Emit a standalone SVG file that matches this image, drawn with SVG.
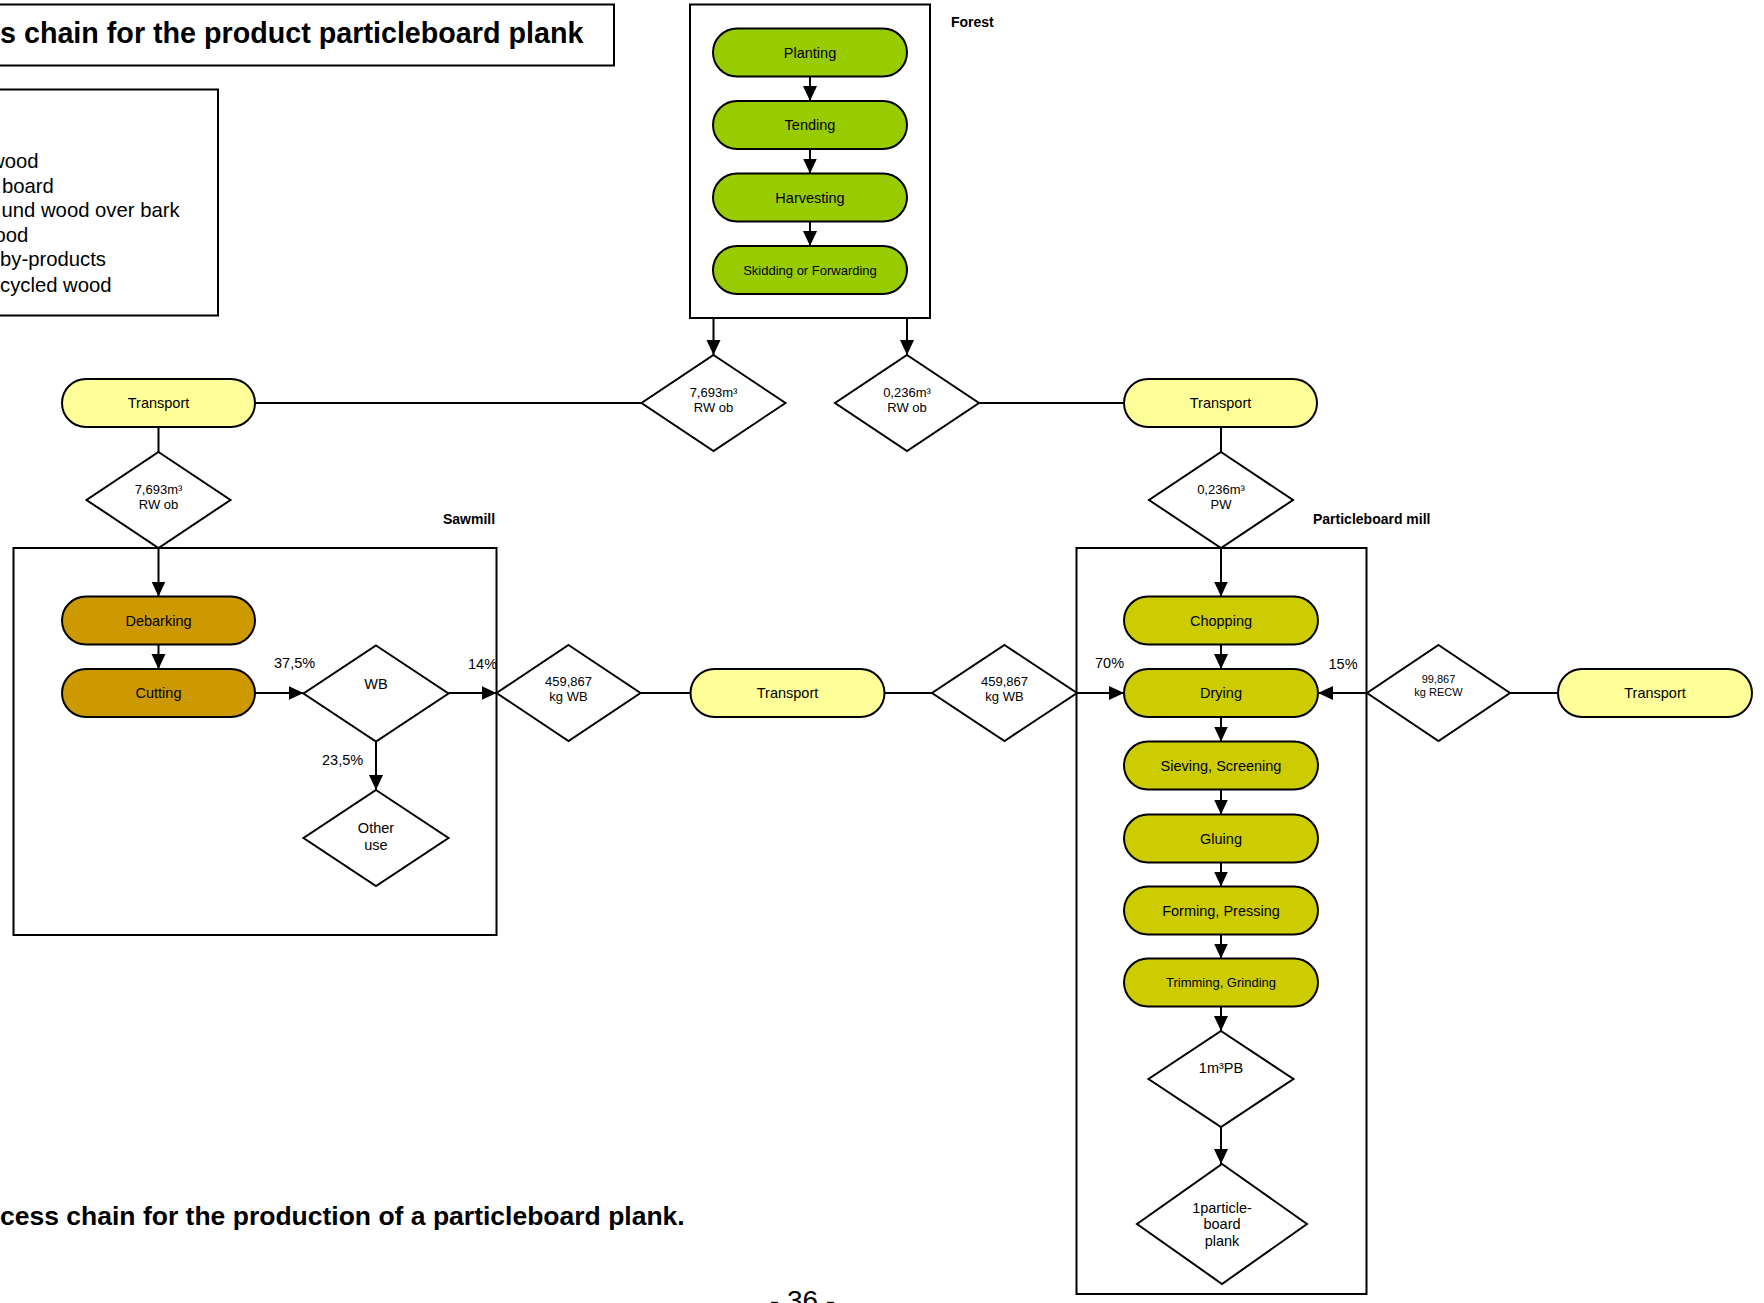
<svg xmlns="http://www.w3.org/2000/svg" width="1764" height="1303" viewBox="0 0 1764 1303">
<style>
  text { font-family: "Liberation Sans", Arial, sans-serif; fill: #000; }
  .frame { fill: none; stroke: #000; stroke-width: 2; }
  .pill { stroke: #000; stroke-width: 2; }
  .forest { fill: #99CC00; }
  .saw { fill: #CC9900; }
  .pb { fill: #CCCC00; }
  .trans { fill: #FFFF99; }
  .dia { fill: #FFFFFF; stroke: #000; stroke-width: 2; }
  .nt { font-size: 14.5px; text-anchor: middle; }
  .st { font-size: 13px; text-anchor: middle; }
  .dt { font-size: 13px; text-anchor: middle; }
  .xt { font-size: 11px; text-anchor: middle; }
  .lbl { font-size: 14.5px; }
  .leg { font-size: 20.3px; }
  .grp { font-size: 14px; font-weight: bold; }
  .conn line, .conn path { stroke: #000; stroke-width: 2; fill: none; }
</style>
<defs>
  <marker id="arr" markerUnits="userSpaceOnUse" markerWidth="16" markerHeight="15" refX="15" refY="7" orient="auto">
    <path d="M0,0 L15,7 L0,14 z" fill="#000"/>
  </marker>
</defs>
<rect width="1764" height="1303" fill="#FFFFFF"/>

<!-- Title -->
<g id="title">
  <rect class="frame" x="-10" y="4.5" width="624" height="61"/>
  <text x="0" y="43" font-size="28.7" font-weight="bold">s chain for the product particleboard plank</text>
</g>

<!-- Legend -->
<g id="legend">
  <rect class="frame" x="-10" y="89.5" width="228" height="226"/>
  <text class="leg" x="-10" y="168">wood</text>
  <text class="leg" x="2" y="193">board</text>
  <text class="leg" x="1.5" y="217">und wood over bark</text>
  <text class="leg" x="-5.5" y="242">ood</text>
  <text class="leg" x="0" y="266">by-products</text>
  <text class="leg" x="0" y="291.5">cycled wood</text>
</g>

<!-- Group frames -->
<g id="forest-box">
  <rect class="frame" x="690" y="4.5" width="240" height="313.5"/>
  <text class="grp" x="951" y="27">Forest</text>
</g>
<g id="sawmill-box">
  <rect class="frame" x="13.5" y="548" width="483" height="387"/>
  <text class="grp" x="443" y="524">Sawmill</text>
</g>
<g id="pbmill-box">
  <rect class="frame" x="1076.5" y="548" width="290" height="746"/>
  <text class="grp" x="1313" y="524">Particleboard mill</text>
</g>

<!-- Connectors -->
<g id="connectors" class="conn">
  <line x1="810" y1="76.5" x2="810" y2="101" marker-end="url(#arr)"/>
  <line x1="810" y1="149" x2="810" y2="173.5" marker-end="url(#arr)"/>
  <line x1="810" y1="221.5" x2="810" y2="246" marker-end="url(#arr)"/>
  <line x1="713.5" y1="318" x2="713.5" y2="355" marker-end="url(#arr)"/>
  <line x1="907" y1="318" x2="907" y2="355" marker-end="url(#arr)"/>
  <line x1="255" y1="403" x2="641.5" y2="403"/>
  <line x1="979" y1="403" x2="1124" y2="403"/>
  <line x1="158.5" y1="427" x2="158.5" y2="452"/>
  <line x1="1221" y1="427" x2="1221" y2="452"/>
  <line x1="158.5" y1="548" x2="158.5" y2="596.5" marker-end="url(#arr)"/>
  <line x1="158.5" y1="644.5" x2="158.5" y2="669" marker-end="url(#arr)"/>
  <line x1="255" y1="693" x2="303.5" y2="693" marker-end="url(#arr)"/>
  <line x1="448.5" y1="693" x2="496.5" y2="693" marker-end="url(#arr)"/>
  <line x1="376" y1="741.5" x2="376" y2="790" marker-end="url(#arr)"/>
  <line x1="640.5" y1="693" x2="690.5" y2="693"/>
  <line x1="884.5" y1="693" x2="932" y2="693"/>
  <line x1="1077" y1="693" x2="1124" y2="693" marker-end="url(#arr)"/>
  <line x1="1367" y1="693" x2="1318" y2="693" marker-end="url(#arr)"/>
  <line x1="1510" y1="693" x2="1558" y2="693"/>
  <line x1="1221" y1="548" x2="1221" y2="596.5" marker-end="url(#arr)"/>
  <line x1="1221" y1="644.5" x2="1221" y2="669" marker-end="url(#arr)"/>
  <line x1="1221" y1="717" x2="1221" y2="741.5" marker-end="url(#arr)"/>
  <line x1="1221" y1="789.5" x2="1221" y2="814.5" marker-end="url(#arr)"/>
  <line x1="1221" y1="862.5" x2="1221" y2="886.5" marker-end="url(#arr)"/>
  <line x1="1221" y1="934.5" x2="1221" y2="958.5" marker-end="url(#arr)"/>
  <line x1="1221" y1="1006.5" x2="1221" y2="1031" marker-end="url(#arr)"/>
  <line x1="1221" y1="1127" x2="1221" y2="1164" marker-end="url(#arr)"/>
</g>

<!-- Forest nodes -->
<g id="planting"><rect class="pill forest" x="713" y="28.5" width="194" height="48" rx="24"/><text class="nt" x="810" y="57.5">Planting</text></g>
<g id="tending"><rect class="pill forest" x="713" y="101" width="194" height="48" rx="24"/><text class="nt" x="810" y="130">Tending</text></g>
<g id="harvesting"><rect class="pill forest" x="713" y="173.5" width="194" height="48" rx="24"/><text class="nt" x="810" y="202.5">Harvesting</text></g>
<g id="skidding"><rect class="pill forest" x="713" y="246" width="194" height="48" rx="24"/><text class="st" x="810" y="274.5">Skidding or Forwarding</text></g>

<!-- Top diamonds -->
<g id="d-rw1"><polygon class="dia" points="713.5,355 785.5,403 713.5,451 641.5,403"/><text class="dt" x="713.5" y="397">7,693m³</text><text class="dt" x="713.5" y="412">RW ob</text></g>
<g id="d-rw2"><polygon class="dia" points="907,355 979,403 907,451 835,403"/><text class="dt" x="907" y="397">0,236m³</text><text class="dt" x="907" y="412">RW ob</text></g>

<!-- Transports -->
<g id="transport-left"><rect class="pill trans" x="62" y="379" width="193" height="48" rx="24"/><text class="nt" x="158.5" y="408">Transport</text></g>
<g id="transport-right"><rect class="pill trans" x="1124" y="379" width="193" height="48" rx="24"/><text class="nt" x="1220.5" y="408">Transport</text></g>
<g id="transport-mid"><rect class="pill trans" x="690.5" y="669" width="194" height="48" rx="24"/><text class="nt" x="787.5" y="698">Transport</text></g>
<g id="transport-far"><rect class="pill trans" x="1558" y="669" width="194" height="48" rx="24"/><text class="nt" x="1655" y="698">Transport</text></g>

<!-- Second-level diamonds -->
<g id="d-rw3"><polygon class="dia" points="158.5,452 230.5,500 158.5,548 86.5,500"/><text class="dt" x="158.5" y="494">7,693m³</text><text class="dt" x="158.5" y="509">RW ob</text></g>
<g id="d-pw"><polygon class="dia" points="1221,452 1293,500 1221,548 1149,500"/><text class="dt" x="1221" y="494">0,236m³</text><text class="dt" x="1221" y="509">PW</text></g>

<!-- Sawmill -->
<g id="debarking"><rect class="pill saw" x="62" y="596.5" width="193" height="48" rx="24"/><text class="nt" x="158.5" y="625.5">Debarking</text></g>
<g id="cutting"><rect class="pill saw" x="62" y="669" width="193" height="48" rx="24"/><text class="nt" x="158.5" y="698">Cutting</text></g>
<g id="d-wb"><polygon class="dia" points="376,645.5 448.5,693.5 376,741.5 303.5,693.5"/><text class="nt" x="376" y="689">WB</text></g>
<g id="d-other"><polygon class="dia" points="376,790 448.5,838 376,886 303.5,838"/><text class="nt" x="376" y="833">Other</text><text class="nt" x="376" y="850">use</text></g>
<text class="lbl" x="274" y="668">37,5%</text>
<text class="lbl" x="468" y="669">14%</text>
<text class="lbl" x="322" y="765">23,5%</text>

<!-- Middle diamonds -->
<g id="d-wb1"><polygon class="dia" points="568.5,645 640.5,693 568.5,741 496.5,693"/><text class="dt" x="568.5" y="686">459,867</text><text class="dt" x="568.5" y="700.5">kg WB</text></g>
<g id="d-wb2"><polygon class="dia" points="1004.5,645 1077,693 1004.5,741 932,693"/><text class="dt" x="1004.5" y="686">459,867</text><text class="dt" x="1004.5" y="700.5">kg WB</text></g>
<g id="d-recw"><polygon class="dia" points="1438.5,645 1510,693 1438.5,741 1367,693"/><text class="xt" x="1438.5" y="683">99,867</text><text class="xt" x="1438.5" y="695.5">kg RECW</text></g>
<text class="lbl" x="1095" y="668">70%</text>
<text class="lbl" x="1328.5" y="669">15%</text>

<!-- Particleboard mill -->
<g id="chopping"><rect class="pill pb" x="1124" y="596.5" width="194" height="48" rx="24"/><text class="nt" x="1221" y="625.5">Chopping</text></g>
<g id="drying"><rect class="pill pb" x="1124" y="669" width="194" height="48" rx="24"/><text class="nt" x="1221" y="698">Drying</text></g>
<g id="sieving"><rect class="pill pb" x="1124" y="741.5" width="194" height="48" rx="24"/><text class="nt" x="1221" y="770.5">Sieving, Screening</text></g>
<g id="gluing"><rect class="pill pb" x="1124" y="814.5" width="194" height="48" rx="24"/><text class="nt" x="1221" y="843.5">Gluing</text></g>
<g id="forming"><rect class="pill pb" x="1124" y="886.5" width="194" height="48" rx="24"/><text class="nt" x="1221" y="915.5">Forming, Pressing</text></g>
<g id="trimming"><rect class="pill pb" x="1124" y="958.5" width="194" height="48" rx="24"/><text class="st" x="1221" y="987">Trimming, Grinding</text></g>
<g id="d-pb"><polygon class="dia" points="1221,1031 1293.5,1079 1221,1127 1148.5,1079"/><text class="nt" x="1221" y="1073">1m³PB</text></g>
<g id="d-plank"><polygon class="dia" points="1222,1164 1307,1224 1222,1284 1137,1224"/><text class="nt" x="1222" y="1212.5">1particle-</text><text class="nt" x="1222" y="1229">board</text><text class="nt" x="1222" y="1246">plank</text></g>

<!-- Caption and page number -->
<text x="0" y="1225" font-size="26.5" font-weight="bold">cess chain for the production of a particleboard plank.</text>
<text x="802.5" y="1310" font-size="28" text-anchor="middle">- 36 -</text>
</svg>
